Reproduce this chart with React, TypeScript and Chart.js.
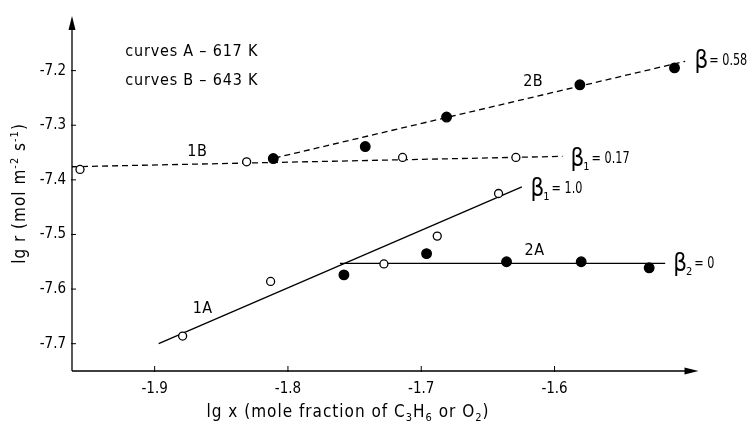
import React, { useEffect, useRef } from "react";
import { Chart, registerables } from "chart.js";

Chart.register(...registerables);

// ---- data ----
const open1B_x = [-1.956, -1.831, -1.714, -1.629];
const open1B_y = [-7.381, -7.367, -7.359, -7.359];
const filled2B_x = [-1.811, -1.742, -1.681, -1.581, -1.51];
const filled2B_y = [-7.361, -7.339, -7.285, -7.226, -7.195];
const open1A_x = [-1.879, -1.813, -1.728, -1.688, -1.642];
const open1A_y = [-7.686, -7.586, -7.554, -7.503, -7.425];
const filled2A_x = [-1.758, -1.696, -1.636, -1.58, -1.529];
const filled2A_y = [-7.574, -7.535, -7.55, -7.55, -7.561];

const fit1B_x = [-1.962, -1.594];
const fit1B_y = [-7.376, -7.357];
const fit2B_x = [-1.81, -1.502];
const fit2B_y = [-7.36, -7.183];
const fit1A_x = [-1.897, -1.6245];
const fit1A_y = [-7.7, -7.413];
const fit2A_x = [-1.761, -1.517];
const fit2A_y = [-7.553, -7.553];

const xTicks = [-1.9, -1.8, -1.7, -1.6];
const yTicks = [-7.2, -7.3, -7.4, -7.5, -7.6, -7.7];

// annotation texts: [text, x, y]
const curveLabels: [string, number, number][] = [
  ["1B", -1.868, -7.348],
  ["2B", -1.616, -7.22],
  ["2A", -1.615, -7.53],
  ["1A", -1.864, -7.636],
];
const noteLabels: [string, number, number][] = [
  ["curves A – 617 K", -1.922, -7.165],
  ["curves B – 643 K", -1.922, -7.218],
];
// beta labels: [beta, subscript, value, x, y]
const betaLabels: [string, string, string, number, number][] = [
  ["β", "", "= 0.58", -1.495, -7.182],
  ["β", "1", "= 0.17", -1.588, -7.361],
  ["β", "1", "= 1.0", -1.618, -7.416],
  ["β", "2", "= 0", -1.511, -7.553],
];

const FONT = "'DejaVu Sans Condensed', 'Liberation Sans Narrow', 'Roboto Condensed', 'DejaVu Sans', sans-serif";

type Seg = { t: string; k?: "sub" | "sup" };
const xTitle: Seg[] = [
  { t: "lg x (mole fraction of C" }, { t: "3", k: "sub" }, { t: "H" }, { t: "6", k: "sub" },
  { t: " or O" }, { t: "2", k: "sub" }, { t: ")" },
];
const yTitle: Seg[] = [
  { t: "lg r (mol m" }, { t: "-2", k: "sup" }, { t: " s" }, { t: "-1", k: "sup" }, { t: ")" },
];

const pts = (xs: number[], ys: number[]) => xs.map((x, i) => ({ x, y: ys[i] }));

function drawRich(ctx: any, segs: Seg[], cx: number, cy: number, size: number) {
  const fontFor = (s: Seg) => `${s.k ? Math.round(size * 0.65) : size}px ${FONT}`;
  let total = 0;
  for (const s of segs) {
    ctx.font = fontFor(s);
    total += ctx.measureText(s.t).width;
  }
  let x = cx - total / 2;
  ctx.textAlign = "left";
  for (const s of segs) {
    ctx.font = fontFor(s);
    const dy = s.k === "sub" ? size * 0.3 : s.k === "sup" ? -size * 0.35 : 0;
    ctx.fillText(s.t, x, cy + dy);
    x += ctx.measureText(s.t).width;
  }
}

const decor = {
  id: "decor",
  afterDatasetsDraw(chart: any) {
    const { ctx, chartArea, scales } = chart;
    const xs = scales.x;
    const ys = scales.y;
    const L = chartArea.left, R = chartArea.right, T = chartArea.top, B = chartArea.bottom;
    ctx.save();
    ctx.strokeStyle = "#000";
    ctx.fillStyle = "#000";
    ctx.lineWidth = 1.3;
    // axes
    ctx.beginPath();
    ctx.moveTo(L, B);
    ctx.lineTo(L, T + 8);
    ctx.moveTo(L, B);
    ctx.lineTo(R - 8, B);
    ctx.stroke();
    // arrows
    ctx.beginPath();
    ctx.moveTo(L, T);
    ctx.lineTo(L - 3.5, T + 14);
    ctx.lineTo(L + 3.5, T + 14);
    ctx.closePath();
    ctx.fill();
    ctx.beginPath();
    ctx.moveTo(R, B);
    ctx.lineTo(R - 14, B - 3.5);
    ctx.lineTo(R - 14, B + 3.5);
    ctx.closePath();
    ctx.fill();
    // inward ticks
    ctx.lineWidth = 1;
    ctx.beginPath();
    for (const v of yTicks) {
      const py = ys.getPixelForValue(v);
      ctx.moveTo(L - 1, py);
      ctx.lineTo(L + 4, py);
    }
    for (const v of xTicks) {
      const px = xs.getPixelForValue(v);
      ctx.moveTo(px, B + 1);
      ctx.lineTo(px, B - 5);
    }
    ctx.stroke();

    // text labels
    ctx.textBaseline = "middle";
    ctx.letterSpacing = "0.5px";
    ctx.textAlign = "center";
    ctx.font = `16px ${FONT}`;
    for (const [t, x, y] of curveLabels) {
      ctx.fillText(t, xs.getPixelForValue(x), ys.getPixelForValue(y));
    }
    ctx.textAlign = "left";
    ctx.letterSpacing = "0.8px";
    for (const [t, x, y] of noteLabels) {
      ctx.fillText(t, xs.getPixelForValue(x), ys.getPixelForValue(y));
    }
    ctx.letterSpacing = "0px";
    for (const [b, sub, val, x, y] of betaLabels) {
      let px = xs.getPixelForValue(x);
      const py = ys.getPixelForValue(y);
      ctx.font = `24px ${FONT}`;
      ctx.fillText(b, px, py + 1);
      px += ctx.measureText(b).width;
      if (sub) {
        ctx.font = `11px ${FONT}`;
        ctx.fillText(sub, px - 1, py + 9);
        px += ctx.measureText(sub).width;
      }
      ctx.save();
      ctx.translate(px + 1, py);
      ctx.scale(0.78, 1);
      ctx.font = `16px ${FONT}`;
      ctx.fillText(val, 0, 0);
      ctx.restore();
    }

    // axis titles
    ctx.letterSpacing = "1px";
    drawRich(ctx, xTitle, 348, 413, 17);
    ctx.save();
    ctx.translate(21, (T + B) / 2);
    ctx.rotate(-Math.PI / 2);
    drawRich(ctx, yTitle, 0, 0, 17);
    ctx.restore();
    ctx.restore();
  },
};

export default function App() {
  const ref = useRef<HTMLCanvasElement>(null);
  useEffect(() => {
    if (!ref.current) return;
    const lineDs = (xs: number[], ys: number[], dash: number[]) => ({
      type: "line" as const,
      data: pts(xs, ys),
      borderColor: "#000",
      borderWidth: 1.3,
      borderDash: dash,
      pointRadius: 0,
      fill: false,
      showLine: true,
      order: 2,
    });
    const ptDs = (xs: number[], ys: number[], filled: boolean) => ({
      type: "scatter" as const,
      data: pts(xs, ys),
      pointRadius: filled ? 4.8 : 4,
      pointBackgroundColor: filled ? "#000" : "#fff",
      pointBorderColor: "#000",
      pointBorderWidth: 1.3,
      showLine: false,
      order: 1,
    });
    const chart = new Chart(ref.current, {
      type: "scatter",
      data: {
        datasets: [
          lineDs(fit1B_x, fit1B_y, [6, 4]),
          lineDs(fit2B_x, fit2B_y, [6, 4]),
          lineDs(fit1A_x, fit1A_y, []),
          lineDs(fit2A_x, fit2A_y, []),
          ptDs(open1B_x, open1B_y, false),
          ptDs(filled2B_x, filled2B_y, true),
          ptDs(open1A_x, open1A_y, false),
          ptDs(filled2A_x, filled2A_y, true),
        ] as any,
      },
      plugins: [decor],
      options: {
        animation: false,
        responsive: true,
        maintainAspectRatio: false,
        layout: { padding: { top: 16, right: 55.5, left: 0, bottom: 0 } },
        plugins: { legend: { display: false }, tooltip: { enabled: false } },
        scales: {
          x: {
            type: "linear",
            min: -1.962,
            max: -1.492,
            grid: { display: false, drawTicks: false },
            border: { display: false },
            afterFit: (s: any) => { s.height = 59; },
            afterBuildTicks: (s: any) => { s.ticks = xTicks.map((v) => ({ value: v })); },
            ticks: {
              color: "#000",
              padding: 9,
              font: { family: FONT, size: 15 },
              callback: (v: any) => Number(v).toFixed(1),
            },
          },
          y: {
            type: "linear",
            min: -7.75,
            max: -7.1,
            grid: { display: false, drawTicks: false },
            border: { display: false },
            afterFit: (s: any) => { s.width = 72; },
            afterBuildTicks: (s: any) => { s.ticks = yTicks.map((v) => ({ value: v })); },
            ticks: {
              color: "#000",
              padding: 6,
              font: { family: FONT, size: 15 },
              callback: (v: any) => Number(v).toFixed(1),
            },
          },
        },
      },
    });
    return () => chart.destroy();
  }, []);
  return (
    <div style={{ position: "fixed", left: 0, top: 0, width: 754, height: 430, background: "#fff" }}>
      <canvas ref={ref} />
    </div>
  );
}
